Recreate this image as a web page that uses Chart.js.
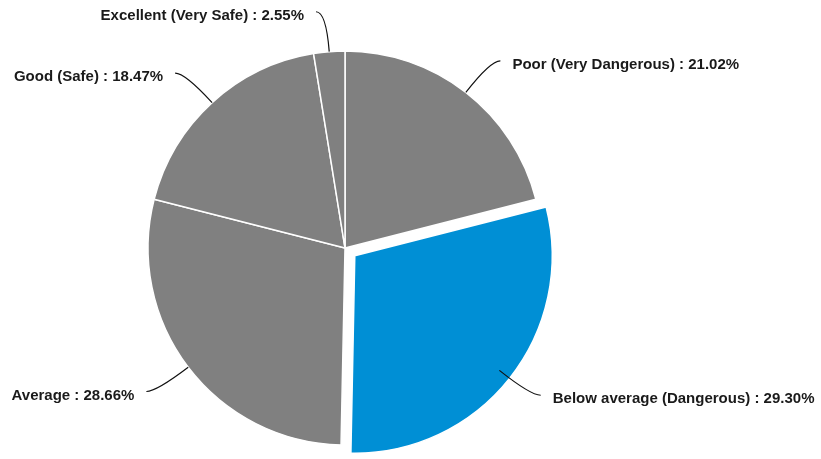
<!DOCTYPE html>
<html>
<head>
<meta charset="utf-8">
<script src="https://cdn.jsdelivr.net/npm/chart.js@4/dist/chart.umd.min.js"></script>
<style>
  html, body { margin: 0; padding: 0; background: #fff; }
  #wrap { width: 821px; height: 459px; }
</style>
</head>
<body>
<div id="wrap"><canvas id="ch-pie"></canvas></div>
<script>
// ── Datos ────────────────────────────────────────────────────────────────
const categories = [
    'Poor (Very Dangerous)',
    'Below average (Dangerous)',
    'Average',
    'Good (Safe)',
    'Excellent (Very Safe)',
];
const shares  = [21.02, 29.30, 28.66, 18.47, 2.55];
const colors  = ['#808080', '#008fd5', '#808080', '#808080', '#808080'];
const offsets = [0, 50, 0, 0, 0];   // Chart.js v4 desplaza ~offset/4 px

// ── Etiquetas con línea guía curva ──────────────────────────────────────
const leaderLabels = {
    id: 'leaderLabels',
    afterDatasetsDraw(chart) {
        const ctx = chart.ctx;
        const meta = chart.getDatasetMeta(0);
        ctx.save();
        ctx.font = 'bold 15px "Liberation Sans", Arial, sans-serif';
        ctx.fillStyle = '#1a1a1a';
        ctx.strokeStyle = '#111';
        ctx.lineWidth = 1.2;
        ctx.textBaseline = 'middle';
        meta.data.forEach((arc, i) => {
            const mid = (arc.startAngle + arc.endAngle) / 2;
            const cx = Math.cos(mid), cy = Math.sin(mid);
            const r  = arc.outerRadius;
            const p0 = { x: arc.x + cx * r,        y: arc.y + cy * r };
            const p1 = { x: arc.x + cx * (r + 40), y: arc.y + cy * (r + 40) };
            const right = cx >= 0;
            const p2 = { x: p1.x + (right ? 10 : -10), y: p1.y };
            ctx.beginPath();
            ctx.moveTo(p0.x, p0.y);
            ctx.quadraticCurveTo(p1.x, p1.y, p2.x, p2.y);
            ctx.stroke();
            const txt = `${categories[i]} : ${shares[i].toFixed(2)}%`;
            ctx.textAlign = right ? 'left' : 'right';
            ctx.fillText(txt, p2.x + (right ? 12 : -12), p2.y + 4);
        });
        ctx.restore();
    },
};

new Chart(document.getElementById('ch-pie').getContext('2d'), {
    type: 'pie',
    data: {
        labels: categories,
        datasets: [{
            data:            shares,
            backgroundColor: colors,
            borderColor:     '#ffffff',
            borderWidth: 1.5,
            offset:      offsets,
        }],
    },
    options: {
        responsive: true, maintainAspectRatio: false,
        animation: false,
        radius: 197,
        layout: { padding: { left: 0, right: 131, top: 37, bottom: 0 } },
        plugins: {
            legend:  { display: false },
            tooltip: { enabled: false },
        },
    },
    plugins: [leaderLabels],
});
</script>
</body>
</html>
